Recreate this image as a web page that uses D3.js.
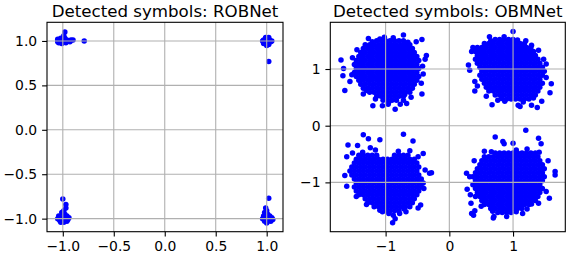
<!DOCTYPE html>
<html>
<head>
<meta charset="utf-8">
<script src="https://cdn.jsdelivr.net/npm/d3@7"></script>
<style>
  body { margin: 0; background: #fff; }
  text { font-family: "DejaVu Sans", sans-serif; }
</style>
</head>
<body>
<div id="chart"></div>
<script>
// ROBNet detected symbols: [x, y]
var robPoints = [
  [-1.05, 1.02], [-1.04, 0.98], [-1.02, 1.03], [-1.01, 0.97], [-1.00, 1.01], [-0.99, 0.99],
  [-0.98, 1.03], [-0.97, 0.98], [-0.96, 1.01], [-0.94, 1.00], [-0.92, 1.01], [-1.03, 1.00],
  [-0.99, 1.06], [-0.98, 1.10], [-1.05, 0.99], [-0.93, 0.99], [-0.90, 1.01], [-0.79, 1.00],
  [0.97, 1.01], [0.98, 0.98], [1.00, 1.02], [1.01, 0.99], [1.03, 1.01], [1.04, 0.99],
  [0.99, 1.04], [1.02, 0.96], [0.97, 0.97], [1.05, 1.00], [0.96, 1.00], [1.00, 0.95],
  [1.02, 1.04], [1.02, 0.77],
  [-1.00, -0.78], [-0.97, -0.84], [-0.97, -0.88], [-0.99, -0.91], [-1.01, -0.93], [-0.98, -0.95],
  [-1.04, -0.97], [-1.02, -0.99], [-0.99, -0.98], [-0.96, -0.97], [-0.94, -0.99], [-1.05, -1.00],
  [-1.03, -1.02], [-1.00, -1.01], [-0.97, -1.02], [-0.95, -1.01], [-1.02, -1.04], [-0.99, -1.04],
  [-0.96, -1.03],
  [1.02, -0.77], [0.99, -0.88], [1.00, -0.91], [0.98, -0.93], [1.01, -0.95], [0.97, -0.97],
  [1.00, -0.98], [1.03, -0.97], [1.05, -0.99], [0.96, -1.00], [0.99, -1.01], [1.02, -1.00],
  [1.06, -1.01], [0.98, -1.03], [1.01, -1.03], [1.04, -1.03], [1.00, -1.05]
];

// OBMNet detected symbols, dense cores stored row by row: [y, [x...]]
var obmRowsTL = [
  [1.50, [-1.14, -1.07, -1.00, -0.93, -0.86, -0.79, -0.72]],
  [1.43, [-1.32, -1.25, -1.18, -1.11, -1.04, -0.97, -0.90, -0.83, -0.76, -0.69, -0.62]],
  [1.36, [-1.35, -1.28, -1.21, -1.14, -1.07, -1.00, -0.93, -0.86, -0.79, -0.72, -0.65, -0.58]],
  [1.29, [-1.39, -1.32, -1.25, -1.18, -1.11, -1.04, -0.97, -0.90, -0.83, -0.76, -0.69, -0.62, -0.55]],
  [1.22, [-1.42, -1.35, -1.28, -1.21, -1.14, -1.07, -1.00, -0.93, -0.86, -0.79, -0.72, -0.65, -0.58, -0.51]],
  [1.15, [-1.46, -1.39, -1.32, -1.25, -1.18, -1.11, -1.04, -0.97, -0.90, -0.83, -0.76, -0.69, -0.62, -0.55, -0.48]],
  [1.08, [-1.49, -1.42, -1.35, -1.28, -1.21, -1.14, -1.07, -1.00, -0.93, -0.86, -0.79, -0.72, -0.65, -0.58, -0.51]],
  [1.01, [-1.46, -1.39, -1.32, -1.25, -1.18, -1.11, -1.04, -0.97, -0.90, -0.83, -0.76, -0.69, -0.62, -0.55, -0.48]],
  [0.94, [-1.49, -1.42, -1.35, -1.28, -1.21, -1.14, -1.07, -1.00, -0.93, -0.86, -0.79, -0.72, -0.65, -0.58, -0.51]],
  [0.87, [-1.46, -1.39, -1.32, -1.25, -1.18, -1.11, -1.04, -0.97, -0.90, -0.83, -0.76, -0.69, -0.62, -0.55, -0.48]],
  [0.80, [-1.42, -1.35, -1.28, -1.21, -1.14, -1.07, -1.00, -0.93, -0.86, -0.79, -0.72, -0.65, -0.58, -0.51]],
  [0.73, [-1.39, -1.32, -1.25, -1.18, -1.11, -1.04, -0.97, -0.90, -0.83, -0.76, -0.69, -0.62, -0.55]],
  [0.66, [-1.35, -1.28, -1.21, -1.14, -1.07, -1.00, -0.93, -0.86, -0.79, -0.72, -0.65, -0.58]],
  [0.59, [-1.25, -1.18, -1.11, -1.04, -0.97, -0.90, -0.83, -0.76, -0.69, -0.62]],
  [0.52, [-1.14, -1.07, -1.00, -0.93, -0.86, -0.79, -0.72]],
  [0.45, [-1.04, -0.97, -0.90, -0.83]]
];
var obmRowsTR = [
  [1.52, [0.72, 0.79, 0.86, 0.93, 1.00]],
  [1.45, [0.55, 0.62, 0.69, 0.76, 0.83, 0.90, 0.97, 1.04, 1.11, 1.18]],
  [1.38, [0.44, 0.51, 0.58, 0.65, 0.72, 0.79, 0.86, 0.93, 1.00, 1.07, 1.14, 1.21, 1.28]],
  [1.31, [0.41, 0.48, 0.55, 0.62, 0.69, 0.76, 0.83, 0.90, 0.97, 1.04, 1.11, 1.18, 1.25, 1.32]],
  [1.24, [0.44, 0.51, 0.58, 0.65, 0.72, 0.79, 0.86, 0.93, 1.00, 1.07, 1.14, 1.21, 1.28, 1.35]],
  [1.17, [0.41, 0.48, 0.55, 0.62, 0.69, 0.76, 0.83, 0.90, 0.97, 1.04, 1.11, 1.18, 1.25, 1.32, 1.39]],
  [1.10, [0.44, 0.51, 0.58, 0.65, 0.72, 0.79, 0.86, 0.93, 1.00, 1.07, 1.14, 1.21, 1.28, 1.35, 1.42]],
  [1.03, [0.48, 0.55, 0.62, 0.69, 0.76, 0.83, 0.90, 0.97, 1.04, 1.11, 1.18, 1.25, 1.32, 1.39, 1.46]],
  [0.96, [0.51, 0.58, 0.65, 0.72, 0.79, 0.86, 0.93, 1.00, 1.07, 1.14, 1.21, 1.28, 1.35, 1.42, 1.49]],
  [0.89, [0.48, 0.55, 0.62, 0.69, 0.76, 0.83, 0.90, 0.97, 1.04, 1.11, 1.18, 1.25, 1.32, 1.39, 1.46]],
  [0.82, [0.51, 0.58, 0.65, 0.72, 0.79, 0.86, 0.93, 1.00, 1.07, 1.14, 1.21, 1.28, 1.35, 1.42]],
  [0.75, [0.55, 0.62, 0.69, 0.76, 0.83, 0.90, 0.97, 1.04, 1.11, 1.18, 1.25, 1.32, 1.39, 1.46]],
  [0.68, [0.58, 0.65, 0.72, 0.79, 0.86, 0.93, 1.00, 1.07, 1.14, 1.21, 1.28, 1.35, 1.42]],
  [0.61, [0.62, 0.69, 0.76, 0.83, 0.90, 0.97, 1.04, 1.11, 1.18, 1.25, 1.32, 1.39]],
  [0.54, [0.72, 0.79, 0.86, 0.93, 1.00, 1.07, 1.14, 1.21, 1.28, 1.35]],
  [0.47, [0.90, 0.97, 1.04, 1.11, 1.18, 1.25]]
];
var obmRowsBL = [
  [-0.52, [-1.42, -1.35, -1.28, -1.21, -1.14, -0.86, -0.79, -0.72, -0.65]],
  [-0.59, [-1.46, -1.39, -1.32, -1.25, -1.18, -1.11, -1.04, -0.97, -0.90, -0.83, -0.76, -0.69, -0.62, -0.55]],
  [-0.66, [-1.49, -1.42, -1.35, -1.28, -1.21, -1.14, -1.07, -1.00, -0.93, -0.86, -0.79, -0.72, -0.65, -0.58, -0.51]],
  [-0.73, [-1.53, -1.46, -1.39, -1.32, -1.25, -1.18, -1.11, -1.04, -0.97, -0.90, -0.83, -0.76, -0.69, -0.62, -0.55, -0.48]],
  [-0.80, [-1.56, -1.49, -1.42, -1.35, -1.28, -1.21, -1.14, -1.07, -1.00, -0.93, -0.86, -0.79, -0.72, -0.65, -0.58, -0.51]],
  [-0.87, [-1.53, -1.46, -1.39, -1.32, -1.25, -1.18, -1.11, -1.04, -0.97, -0.90, -0.83, -0.76, -0.69, -0.62, -0.55, -0.48]],
  [-0.94, [-1.49, -1.42, -1.35, -1.28, -1.21, -1.14, -1.07, -1.00, -0.93, -0.86, -0.79, -0.72, -0.65, -0.58, -0.51, -0.44]],
  [-1.01, [-1.46, -1.39, -1.32, -1.25, -1.18, -1.11, -1.04, -0.97, -0.90, -0.83, -0.76, -0.69, -0.62, -0.55, -0.48, -0.41]],
  [-1.08, [-1.49, -1.42, -1.35, -1.28, -1.21, -1.14, -1.07, -1.00, -0.93, -0.86, -0.79, -0.72, -0.65, -0.58, -0.51, -0.44]],
  [-1.15, [-1.46, -1.39, -1.32, -1.25, -1.18, -1.11, -1.04, -0.97, -0.90, -0.83, -0.76, -0.69, -0.62, -0.55, -0.48]],
  [-1.22, [-1.42, -1.35, -1.28, -1.21, -1.14, -1.07, -1.00, -0.93, -0.86, -0.79, -0.72, -0.65, -0.58, -0.51]],
  [-1.29, [-1.32, -1.25, -1.18, -1.11, -1.04, -0.97, -0.90, -0.83, -0.76, -0.69, -0.62, -0.55]],
  [-1.36, [-1.28, -1.21, -1.14, -1.07, -1.00, -0.93, -0.86, -0.79, -0.72, -0.65, -0.58]],
  [-1.43, [-1.18, -1.11, -1.04, -0.97, -0.90, -0.83, -0.76, -0.69, -0.62]],
  [-1.50, [-1.00, -0.93, -0.86, -0.79]]
];
var obmRowsBR = [
  [-0.48, [0.72, 0.79, 0.86, 0.93, 1.00, 1.07, 1.14, 1.21, 1.28, 1.35]],
  [-0.55, [0.55, 0.62, 0.69, 0.76, 0.83, 0.90, 0.97, 1.04, 1.11, 1.18, 1.25, 1.32, 1.39]],
  [-0.62, [0.51, 0.58, 0.65, 0.72, 0.79, 0.86, 0.93, 1.00, 1.07, 1.14, 1.21, 1.28, 1.35, 1.42]],
  [-0.69, [0.48, 0.55, 0.62, 0.69, 0.76, 0.83, 0.90, 0.97, 1.04, 1.11, 1.18, 1.25, 1.32, 1.39, 1.46]],
  [-0.76, [0.44, 0.51, 0.58, 0.65, 0.72, 0.79, 0.86, 0.93, 1.00, 1.07, 1.14, 1.21, 1.28, 1.35, 1.42, 1.49]],
  [-0.83, [0.41, 0.48, 0.55, 0.62, 0.69, 0.76, 0.83, 0.90, 0.97, 1.04, 1.11, 1.18, 1.25, 1.32, 1.39, 1.46]],
  [-0.90, [0.37, 0.44, 0.51, 0.58, 0.65, 0.72, 0.79, 0.86, 0.93, 1.00, 1.07, 1.14, 1.21, 1.28, 1.35, 1.42, 1.49]],
  [-0.97, [0.41, 0.48, 0.55, 0.62, 0.69, 0.76, 0.83, 0.90, 0.97, 1.04, 1.11, 1.18, 1.25, 1.32, 1.39, 1.46]],
  [-1.04, [0.37, 0.44, 0.51, 0.58, 0.65, 0.72, 0.79, 0.86, 0.93, 1.00, 1.07, 1.14, 1.21, 1.28, 1.35, 1.42]],
  [-1.11, [0.41, 0.48, 0.55, 0.62, 0.69, 0.76, 0.83, 0.90, 0.97, 1.04, 1.11, 1.18, 1.25, 1.32, 1.39, 1.46]],
  [-1.18, [0.44, 0.51, 0.58, 0.65, 0.72, 0.79, 0.86, 0.93, 1.00, 1.07, 1.14, 1.21, 1.28, 1.35, 1.42]],
  [-1.25, [0.41, 0.48, 0.55, 0.62, 0.69, 0.76, 0.83, 0.90, 0.97, 1.04, 1.11, 1.18, 1.25, 1.32, 1.39]],
  [-1.32, [0.51, 0.58, 0.65, 0.72, 0.79, 0.86, 0.93, 1.00, 1.07, 1.14, 1.21, 1.28, 1.35]],
  [-1.39, [0.55, 0.62, 0.69, 0.76, 0.83, 0.90, 0.97, 1.04, 1.11, 1.18, 1.25]],
  [-1.46, [0.65, 0.72, 0.79, 0.86, 0.93, 1.00, 1.07, 1.14]],
  [-1.53, [0.76, 0.83, 0.90, 0.97]]
];

// OBMNet scattered points around the cores: [x, y]
var obmOutliers = [
  [-1.70, 1.16], [-1.66, 1.01], [-1.67, 0.88], [-1.56, 0.78], [-1.64, 0.62], [-1.45, 1.34],
  [-1.27, 1.54], [-1.09, 1.53], [-0.72, 1.60], [-0.52, 1.48], [-0.43, 1.52], [-0.36, 1.24],
  [-0.38, 1.17], [-0.41, 0.91], [-0.43, 0.56], [-1.20, 0.35], [-1.05, 0.35], [-0.85, 0.29],
  [-0.67, 0.39], [-0.72, 0.45], [-0.77, 0.38], [-1.35, 0.56], [-0.44, 0.75], [-0.42, 1.05],
  [-1.52, 1.20], [-1.53, 0.90], [-0.96, 0.38], [-0.60, 0.50], [-1.21, 1.48], [-0.65, 1.47],
  [-0.88, 1.55], [-1.30, 0.62], [-1.16, 0.47], [-0.70, 0.55], [-0.95, 0.42], [-1.02, 1.56],
  [1.00, 1.66], [0.63, 1.57], [0.30, 1.07], [0.32, 0.98], [0.40, 0.78], [0.40, 0.61],
  [0.35, 1.31], [0.37, 1.38], [0.67, 0.37], [0.87, 0.43], [1.08, 0.36], [1.11, 0.34],
  [1.29, 0.36], [1.38, 0.32], [1.45, 0.43], [1.58, 0.58], [1.60, 0.74], [1.52, 1.09],
  [1.48, 1.17], [1.40, 1.33], [1.29, 1.42], [1.20, 1.50], [0.76, 0.45], [1.52, 0.85],
  [0.44, 0.70], [0.58, 0.52], [0.65, 1.50], [1.07, 1.51], [0.86, 1.57], [0.82, 0.48],
  [1.32, 0.49], [1.16, 0.42],
  [-1.35, -0.16], [-1.27, -0.23], [-1.59, -0.34], [-1.44, -0.35], [-1.09, -0.25], [-0.72, -0.15],
  [-0.57, -0.27], [-1.24, -0.39], [-1.16, -0.43], [-1.61, -0.55], [-1.64, -0.88], [-1.61, -1.07],
  [-0.49, -0.55], [-0.41, -0.49], [-0.38, -0.78], [-0.31, -0.84], [-0.28, -0.83], [-0.40, -1.11],
  [-1.46, -1.25], [-1.30, -1.39], [-1.09, -1.49], [-0.49, -1.45], [-0.45, -1.40], [-0.88, -1.58],
  [-0.89, -1.71], [-0.85, -1.64], [-0.95, -1.55], [-0.68, -1.52], [-1.52, -0.48], [-0.80, -0.45],
  [-0.62, -0.44], [-1.36, -0.47], [-0.71, -1.47], [-1.05, -1.52], [-0.78, -1.55],
  [1.20, -0.08], [0.72, -0.20], [0.84, -0.28], [0.86, -0.32], [1.00, -0.31], [1.40, -0.22],
  [1.44, -0.32], [1.22, -0.41], [0.39, -0.62], [0.27, -0.84], [0.32, -0.90], [0.28, -1.12],
  [0.33, -1.22], [0.34, -1.37], [0.38, -1.58], [0.40, -1.50], [0.35, -1.55], [0.69, -1.63],
  [0.70, -1.60], [1.66, -0.81], [1.66, -0.87], [1.52, -1.16], [1.57, -1.28], [1.40, -1.37],
  [1.29, -1.38], [1.15, -1.55], [0.90, -1.60], [0.55, -0.45], [1.55, -0.62], [0.66, -0.46],
  [1.41, -0.47], [1.05, -0.43], [0.68, -1.51], [1.05, -1.52], [0.50, -1.42], [1.22, -1.47]
];

var robTicks = [-1.0, -0.5, 0.0, 0.5, 1.0];
var obmTicks = [-1, 0, 1];

function rowsToPoints(rows) {
  var out = [];
  rows.forEach(function(r) {
    r[1].forEach(function(x) {
      out.push([x, r[0]]);
    });
  });
  return out;
}

var obmPoints = rowsToPoints(obmRowsTL)
  .concat(rowsToPoints(obmRowsTR))
  .concat(rowsToPoints(obmRowsBL))
  .concat(rowsToPoints(obmRowsBR))
  .concat(obmOutliers);

var fig_width = 566;
var fig_height = 257;

var svg = d3
  .select("#chart")
  .append("svg")
  .attr("width", fig_width)
  .attr("height", fig_height);

function drawPanel(title, points, ticks, fmt, xDomain, yDomain, box) {
  var x_scale = d3.scaleLinear().domain(xDomain).range([box.left, box.right]);
  var y_scale = d3.scaleLinear().domain(yDomain).range([box.bottom, box.top]);
  var g = svg.append("g");

  // points (drawn under the grid, like matplotlib)
  g.append("g")
    .selectAll("circle")
    .data(points)
    .enter()
    .append("circle")
    .attr("cx", function(d) { return x_scale(d[0]); })
    .attr("cy", function(d) { return y_scale(d[1]); })
    .attr("r", 2.75)
    .attr("fill", "#0000ff");

  // grid
  g.append("g")
    .selectAll("line")
    .data(ticks)
    .enter()
    .append("line")
    .attr("x1", function(d) { return x_scale(d); })
    .attr("x2", function(d) { return x_scale(d); })
    .attr("y1", box.top)
    .attr("y2", box.bottom)
    .attr("stroke", "#b0b0b0")
    .attr("stroke-width", 1.1);
  g.append("g")
    .selectAll("line")
    .data(ticks)
    .enter()
    .append("line")
    .attr("y1", function(d) { return y_scale(d); })
    .attr("y2", function(d) { return y_scale(d); })
    .attr("x1", box.left)
    .attr("x2", box.right)
    .attr("stroke", "#b0b0b0")
    .attr("stroke-width", 1.1);

  // axes
  var x_axis = d3.axisBottom(x_scale).tickValues(ticks).tickFormat(fmt)
    .tickSize(4.9).tickSizeOuter(0).tickPadding(4.9);
  var y_axis = d3.axisLeft(y_scale).tickValues(ticks).tickFormat(fmt)
    .tickSize(4.9).tickSizeOuter(0).tickPadding(4.9);

  var gx = g.append("g")
    .attr("transform", "translate(0," + box.bottom + ")")
    .call(x_axis);
  var gy = g.append("g")
    .attr("transform", "translate(" + box.left + ",0)")
    .call(y_axis);
  [gx, gy].forEach(function(a) {
    a.select(".domain").remove();
    a.selectAll(".tick line").attr("stroke", "#000").attr("stroke-width", 1.1);
    a.selectAll(".tick text")
      .attr("fill", "#000")
      .style("font-family", "'DejaVu Sans', sans-serif")
      .style("font-size", "13.9px");
  });

  // spines
  g.append("rect")
    .attr("x", box.left)
    .attr("y", box.top)
    .attr("width", box.right - box.left)
    .attr("height", box.bottom - box.top)
    .attr("fill", "none")
    .attr("stroke", "#000")
    .attr("stroke-width", 1.1);

  g.append("text")
    .attr("x", (box.left + box.right) / 2)
    .attr("y", 17.3)
    .attr("text-anchor", "middle")
    .style("font-size", "16.67px")
    .attr("fill", "#000")
    .text(title);
}

drawPanel("Detected symbols: ROBNet", robPoints, robTicks, d3.format(".1f"),
  [-1.155, 1.16], [-1.147, 1.21], { left: 47, right: 283, top: 22.3, bottom: 231.7 });
drawPanel("Detected symbols: OBMNet", obmPoints, obmTicks, d3.format("d"),
  [-1.868, 1.82], [-1.87, 1.824], { left: 330.3, right: 565.3, top: 22.3, bottom: 231.7 });
</script>
</body>
</html>
